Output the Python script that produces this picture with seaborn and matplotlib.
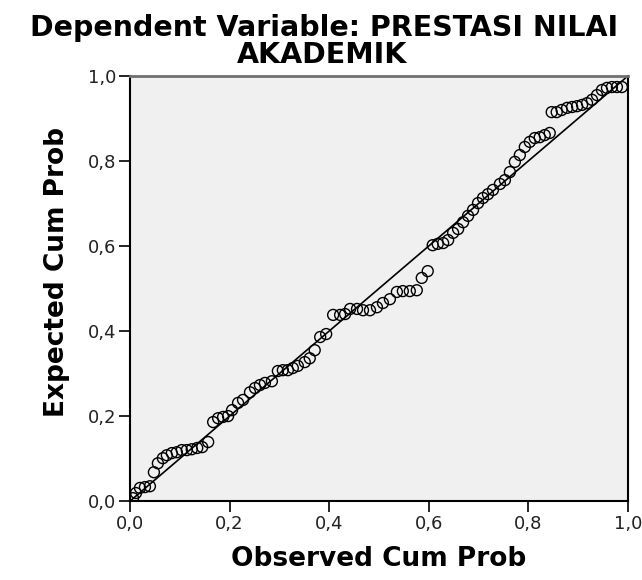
import numpy as np
import pandas as pd
import matplotlib
matplotlib.use('Agg')
import matplotlib.pyplot as plt
import seaborn as sns

# observed cum prob (x) and expected cum prob (y)
observed = [0.006, 0.012, 0.020, 0.030, 0.040, 0.048, 0.056, 0.066, 0.074, 0.084,
            0.094, 0.104, 0.114, 0.124, 0.135, 0.145, 0.157, 0.167, 0.177, 0.187,
            0.197, 0.205, 0.217, 0.227, 0.241, 0.251, 0.261, 0.271, 0.285, 0.297,
            0.307, 0.317, 0.327, 0.337, 0.351, 0.361, 0.371, 0.382, 0.394, 0.408,
            0.422, 0.432, 0.442, 0.456, 0.468, 0.482, 0.496, 0.508, 0.522, 0.536,
            0.548, 0.562, 0.576, 0.586, 0.598, 0.608, 0.618, 0.629, 0.639, 0.649,
            0.659, 0.669, 0.679, 0.689, 0.699, 0.709, 0.719, 0.729, 0.743, 0.753,
            0.763, 0.773, 0.783, 0.793, 0.803, 0.813, 0.823, 0.833, 0.843, 0.847,
            0.857, 0.867, 0.878, 0.888, 0.898, 0.908, 0.918, 0.928, 0.938, 0.948,
            0.958, 0.968, 0.978, 0.988]
expected = [0.007, 0.019, 0.031, 0.033, 0.035, 0.068, 0.089, 0.101, 0.108, 0.113,
            0.115, 0.120, 0.120, 0.122, 0.125, 0.127, 0.139, 0.186, 0.195, 0.198,
            0.200, 0.214, 0.231, 0.238, 0.256, 0.266, 0.273, 0.278, 0.282, 0.306,
            0.308, 0.308, 0.313, 0.318, 0.327, 0.336, 0.355, 0.386, 0.393, 0.438,
            0.438, 0.440, 0.452, 0.452, 0.449, 0.449, 0.456, 0.466, 0.475, 0.492,
            0.494, 0.494, 0.496, 0.525, 0.541, 0.602, 0.605, 0.607, 0.614, 0.631,
            0.640, 0.656, 0.671, 0.685, 0.701, 0.713, 0.722, 0.732, 0.746, 0.755,
            0.774, 0.798, 0.814, 0.833, 0.845, 0.854, 0.856, 0.861, 0.866, 0.915,
            0.915, 0.920, 0.925, 0.927, 0.929, 0.932, 0.936, 0.944, 0.955, 0.967,
            0.972, 0.974, 0.974, 0.974]
ref_line = [0.0, 1.0]
ticks = [0.0, 0.2, 0.4, 0.6, 0.8, 1.0]
tick_labels = ['0,0', '0,2', '0,4', '0,6', '0,8', '1,0']
title_lines = ['Dependent Variable: PRESTASI NILAI', 'AKADEMIK']

df = pd.DataFrame({'Observed': observed, 'Expected': expected})

sns.set_style('white')
plt.rcParams['font.family'] = ['DejaVu Sans']
plt.rcParams['text.color'] = 'black'
plt.rcParams['axes.labelcolor'] = 'black'

fig = plt.figure(figsize=(6.42, 5.8), dpi=100)
ax = fig.add_axes([0.2025, 0.136, 0.7755, 0.733])
ax.set_facecolor('#f0f0f0')

sns.lineplot(x=ref_line, y=ref_line, color='black', linewidth=1.2, ax=ax)
sns.scatterplot(data=df, x='Observed', y='Expected', marker='o', s=62,
                facecolors='none', edgecolor='black', linewidth=1.0, ax=ax)

ax.set_xlim(0, 1)
ax.set_ylim(0, 1)
ax.set_xticks(ticks)
ax.set_xticklabels(tick_labels)
ax.set_yticks(ticks)
ax.set_yticklabels(tick_labels)
ax.tick_params(axis='both', direction='out', length=8, width=1.2, labelsize=13,
               colors='black', bottom=True, left=True, pad=2)
for lab in ax.get_xticklabels() + ax.get_yticklabels():
    lab.set_color('#222222')
for side in ['left', 'bottom', 'right']:
    ax.spines[side].set_color('black')
    ax.spines[side].set_linewidth(1.5)
ax.spines['top'].set_color('#707070')
ax.spines['top'].set_linewidth(2)

ax.set_xlabel('Observed Cum Prob', fontsize=19, fontweight='bold', labelpad=9)
ax.set_ylabel('Expected Cum Prob', fontsize=19, fontweight='bold')
ax.yaxis.set_label_coords(-0.121, 0.538)

# title in two lines, as in the SPSS output
fig.text(0.505, 0.952, title_lines[0], fontsize=20.5, fontweight='bold',
         ha='center', va='center')
fig.text(0.502, 0.905, title_lines[1], fontsize=20.5, fontweight='bold',
         ha='center', va='center')

fig.savefig('out.png', dpi=100)
